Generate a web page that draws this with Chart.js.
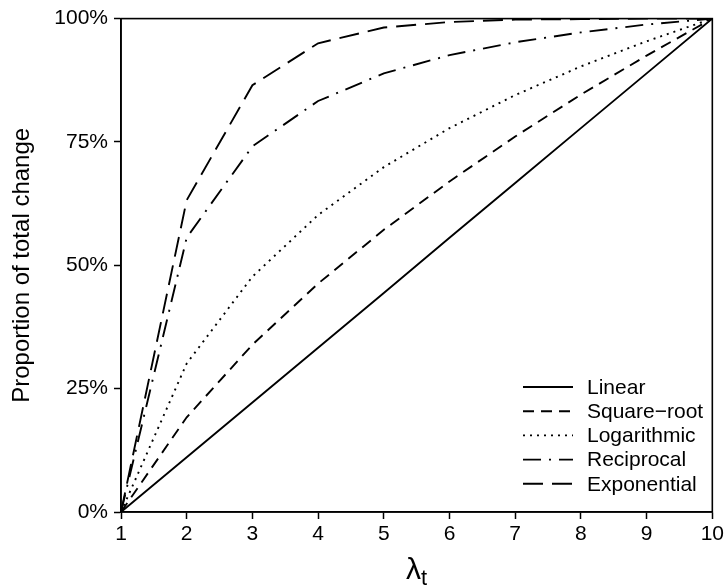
<!DOCTYPE html>
<html>
<head>
<meta charset="utf-8">
<script src="https://cdn.jsdelivr.net/npm/chart.js@4"></script>
<style>
  html, body { margin: 0; padding: 0; background: #fff; }
</style>
</head>
<body>
<canvas id="curves" width="727" height="588"></canvas>
<script>
// lambda_t values on the x axis
var lambdas = [1, 2, 3, 4, 5, 6, 7, 8, 9, 10];

// proportion of total change reached at each lambda_t
var linear      = [0, 0.111, 0.222, 0.333, 0.444, 0.556, 0.667, 0.778, 0.889, 1];
var squareRoot  = [0, 0.192, 0.339, 0.463, 0.572, 0.670, 0.761, 0.846, 0.925, 1];
var logarithmic = [0, 0.301, 0.477, 0.602, 0.699, 0.778, 0.845, 0.903, 0.954, 1];
var reciprocal  = [0, 0.556, 0.741, 0.833, 0.889, 0.926, 0.952, 0.972, 0.988, 1];
var exponential = [0, 0.632, 0.865, 0.950, 0.982, 0.993, 0.998, 0.999, 1.000, 1];

var seriesNames = ['Linear', 'Square\u2212root', 'Logarithmic', 'Reciprocal', 'Exponential'];
var yTickLabels = ['0%', '25%', '50%', '75%', '100%'];

var FONT = '"Liberation Sans", Arial, Helvetica, sans-serif';

function points(values) {
    return lambdas.map(function(x, i) { return { x: x, y: values[i] }; });
}

function line(label, values, dash) {
    return {
        label: label,
        data: points(values),
        borderColor: '#000',
        borderWidth: 1.9,
        borderDash: dash,
        pointRadius: 0,
        tension: 0,
        fill: false
    };
}

// box around the plot, legend in the corner and the lambda_t axis title
var decorations = {
    id: 'decorations',
    afterDatasetsDraw: function(chart) {
        var ctx = chart.ctx;
        var area = chart.chartArea;
        ctx.save();
        ctx.strokeStyle = '#000';
        ctx.lineWidth = 1.6;
        ctx.setLineDash([]);
        ctx.strokeRect(area.left, area.top, area.right - area.left, area.bottom - area.top);

        // legend
        var lx = 523, lw = 50, tx = 587, ty = 387, step = 24.2;
        ctx.font = '21px ' + FONT;
        ctx.fillStyle = '#000';
        ctx.textBaseline = 'middle';
        ctx.textAlign = 'left';
        chart.data.datasets.forEach(function(ds, i) {
            var y = ty + i * step;
            ctx.beginPath();
            ctx.lineWidth = ds.borderWidth;
            ctx.setLineDash(ds.borderDash || []);
            ctx.moveTo(lx, y);
            ctx.lineTo(lx + lw, y);
            ctx.stroke();
            ctx.fillText(ds.label, tx, y + 1);
        });

        // x axis title: lambda with subscript t
        var cx = (area.left + area.right) / 2;
        ctx.font = '30px ' + FONT;
        ctx.textBaseline = 'alphabetic';
        var lamW = ctx.measureText('\u03bb').width;
        ctx.font = '22px ' + FONT;
        var subW = ctx.measureText('t').width;
        var start = cx - (lamW + subW) / 2;
        ctx.font = '30px ' + FONT;
        ctx.fillText('\u03bb', start, 579);
        ctx.font = '22px ' + FONT;
        ctx.fillText('t', start + lamW, 585);
        ctx.restore();
    }
};

var chart = new Chart(document.getElementById('curves'), {
    type: 'line',
    data: {
        datasets: [
            line(seriesNames[0], linear, []),
            line(seriesNames[1], squareRoot, [11, 7]),
            line(seriesNames[2], logarithmic, [2, 5]),
            line(seriesNames[3], reciprocal, [18, 8, 2, 8]),
            line(seriesNames[4], exponential, [20, 9])
        ]
    },
    options: {
        responsive: false,
        animation: false,
        layout: { padding: { top: 14, right: 13, left: 0, bottom: 0 } },
        plugins: {
            legend: { display: false },
            tooltip: { enabled: false }
        },
        scales: {
            x: {
                type: 'linear',
                min: 1,
                max: 10,
                afterFit: function(scale) { scale.height = 76; },
                border: { display: true, color: '#000', width: 1.6 },
                grid: { drawOnChartArea: false, tickLength: 7, color: '#000', tickColor: '#000', tickWidth: 1.5 },
                ticks: {
                    stepSize: 1,
                    color: '#000',
                    padding: 3,
                    maxRotation: 0,
                    font: { family: FONT, size: 21 }
                }
            },
            y: {
                type: 'linear',
                min: 0,
                max: 1,
                afterFit: function(scale) { scale.width = 121; },
                border: { display: true, color: '#000', width: 1.6 },
                grid: { drawOnChartArea: false, tickLength: 7, color: '#000', tickColor: '#000', tickWidth: 1.5 },
                ticks: {
                    stepSize: 0.25,
                    color: '#000',
                    padding: 6,
                    font: { family: FONT, size: 21 },
                    callback: function(value) {
                        return yTickLabels[Math.round(value * 4)];
                    }
                },
                title: {
                    display: true,
                    text: 'Proportion of total change',
                    color: '#000',
                    font: { family: FONT, size: 24 },
                    padding: { top: 8, bottom: 0 }
                }
            }
        }
    },
    plugins: [decorations]
});
</script>
</body>
</html>
